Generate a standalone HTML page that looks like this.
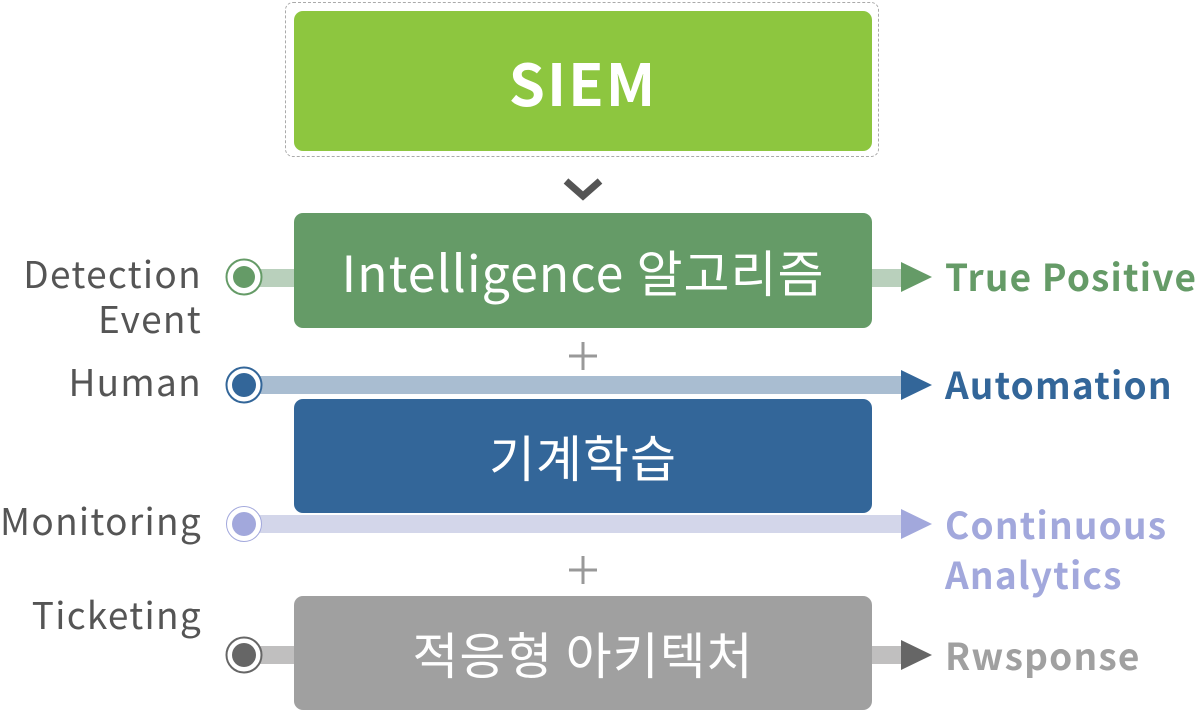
<!DOCTYPE html>
<html><head><meta charset="utf-8"><style>
html,body{margin:0;padding:0;background:#fff;}
body{width:1197px;height:713px;position:relative;overflow:hidden;font-family:"Liberation Sans","Noto Sans CJK KR",sans-serif;}
.a{position:absolute;}
.box{position:absolute;left:294px;width:578px;border-radius:9px;color:#fff;display:flex;align-items:center;justify-content:center;font-family:"Noto Sans CJK KR","Liberation Sans",sans-serif;font-size:50px;letter-spacing:1px;}
.lab{position:absolute;right:995px;text-align:right;color:#555;font-size:37px;letter-spacing:1.3px;line-height:45px;font-family:"Noto Sans CJK KR","Liberation Sans",sans-serif;white-space:nowrap;}
.out{position:absolute;left:945px;font-weight:bold;font-size:37px;letter-spacing:1.2px;line-height:50px;font-family:"Noto Sans CJK KR","Liberation Sans",sans-serif;white-space:nowrap;}
</style></head><body>
<div class="a" style="left:285px;top:2px;width:592px;height:153px;border:1px dashed #aaa;border-radius:8px;"></div>
<div class="box" style="top:11px;height:140px;background:#8dc63f;font-weight:bold;font-size:58px;letter-spacing:2px;">SIEM</div>
<svg class="a" style="left:0;top:0" width="1197" height="713">
<polyline points="566,181 583,196 600,181" fill="none" stroke="#555" stroke-width="7"/>
<path d="M583,342v28M569,356h28M583,556v28M569,570h28" stroke="#999" stroke-width="3"/>
<rect x="258" y="269" width="40" height="18" fill="#b9d0bc"/>
<rect x="870" y="269" width="34" height="18" fill="#b9d0bc"/>
<polygon points="901,262 932,277 901,292" fill="#659b67"/>
<circle cx="244" cy="277" r="17.5" fill="#fff" stroke="#659b67" stroke-width="2"/>
<circle cx="244" cy="277" r="11" fill="#659b67"/>
<rect x="258" y="376" width="646" height="18" fill="#a9bdd1"/>
<polygon points="901,370 932,385 901,400" fill="#336699"/>
<circle cx="244" cy="385" r="17.5" fill="#fff" stroke="#336699" stroke-width="2"/>
<circle cx="244" cy="385" r="12" fill="#336699"/>
<rect x="258" y="515" width="646" height="18" fill="#d3d6ea"/>
<polygon points="901,509 932,524 901,539" fill="#a2a8dc"/>
<circle cx="244" cy="524" r="17.5" fill="#fff" stroke="#a2a8dc" stroke-width="1"/>
<circle cx="244" cy="524" r="12" fill="#a2a8dc"/>
<rect x="258" y="646" width="40" height="18" fill="#c0bfbf"/>
<rect x="870" y="646" width="34" height="18" fill="#c0bfbf"/>
<polygon points="901,640 932,655 901,670" fill="#666"/>
<circle cx="244" cy="655" r="17.5" fill="#fff" stroke="#666" stroke-width="2"/>
<circle cx="244" cy="655" r="12" fill="#666"/>
</svg>
<div class="box" style="top:213px;height:115px;background:#659b67;">Intelligence 알고리즘</div>
<div class="box" style="top:399px;height:114px;background:#336699;">기계학습</div>
<div class="box" style="top:596px;height:114px;background:#a0a0a0;">적응형 아키텍처</div>
<div class="lab" style="top:250px;">Detection<br>Event</div>
<div class="lab" style="top:358px;">Human</div>
<div class="lab" style="top:497px;">Monitoring</div>
<div class="lab" style="top:591px;">Ticketing</div>
<div class="out" style="top:250px;color:#659b67;">True Positive</div>
<div class="out" style="top:358px;color:#336699;">Automation</div>
<div class="out" style="top:498px;color:#a2a8dc;">Continuous<br>Analytics</div>
<div class="out" style="top:629px;color:#a0a0a0;">Rwsponse</div>
</body></html>
